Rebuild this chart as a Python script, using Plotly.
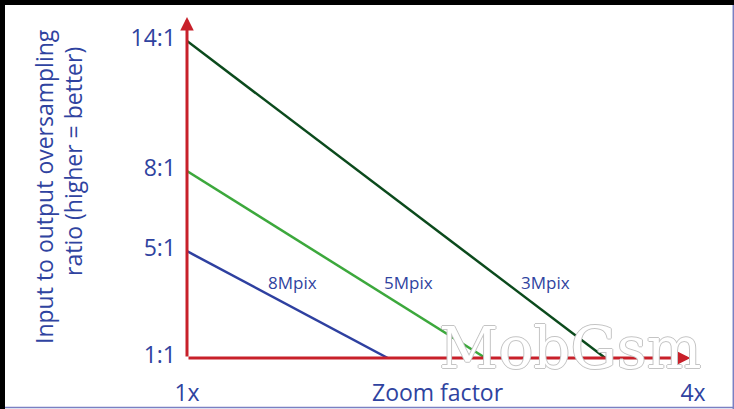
import plotly.graph_objects as go

# ---- data ----
series_names = ["3Mpix", "5Mpix", "8Mpix"]
zoom_3mp = [1.0, 3.48]
ratio_3mp = [12.87, 1.0]      # drawn level of the "14:1" tick
zoom_5mp = [1.0, 2.77]
ratio_5mp = [8.0, 1.0]
zoom_8mp = [1.0, 2.19]
ratio_8mp = [5.0, 1.0]

y_tick_levels = [1.0, 5.0, 8.0, 12.87]
y_tick_labels = ["1:1", "5:1", "8:1", "14:1"]
x_tick_vals = [1, 4]
x_tick_labels = ["1x", "4x"]

label_x = [3.128, 2.316, 1.628]
label_y = [3.81, 3.81, 3.81]

colors = ["#0b4a1c", "#3ca83c", "#2e40a0"]
text_blue = "#2f43a0"
axis_red = "#c8202a"
FONT = "Open Sans"

W, H = 734, 409
L, R, T, B = 187, 41, 17, 51
PW, PH = W - L - R, H - T - B
y_top = 13.77

def px2paper_x(px):
    return (px - L) / PW

def py2paper_y(py):
    return (H - B - py) / PH

fig = go.Figure()
for xs, ys, c in [(zoom_3mp, ratio_3mp, colors[0]),
                  (zoom_5mp, ratio_5mp, colors[1]),
                  (zoom_8mp, ratio_8mp, colors[2])]:
    fig.add_trace(go.Scatter(x=xs, y=ys, mode="lines",
                             line=dict(color=c, width=2.5),
                             showlegend=False, hoverinfo="skip"))

annotations = []
# axis arrows
annotations.append(dict(x=1, y=y_top, ax=1, ay=1, xref="x", yref="y",
                        axref="x", ayref="y", text="", showarrow=True,
                        arrowhead=2, arrowsize=0.9, arrowwidth=3,
                        arrowcolor=axis_red))
annotations.append(dict(x=3.985, y=1, ax=1, ay=1, xref="x", yref="y",
                        axref="x", ayref="y", text="", showarrow=True,
                        arrowhead=2, arrowsize=0.9, arrowwidth=3,
                        arrowcolor=axis_red))
# series labels
for name, lx, ly in zip(series_names, label_x, label_y):
    annotations.append(dict(x=lx, y=ly, xref="x", yref="y", text=name,
                            showarrow=False, xanchor="center", yanchor="middle",
                            font=dict(family=FONT, size=17, color=text_blue)))
# axis titles
annotations.append(dict(x=px2paper_x(44), y=py2paper_y(187), xref="paper",
                        yref="paper", text="Input to output oversampling",
                        textangle=-90, showarrow=False,
                        xanchor="center", yanchor="middle",
                        font=dict(family=FONT, size=23, color=text_blue)))
annotations.append(dict(x=px2paper_x(73), y=py2paper_y(162), xref="paper",
                        yref="paper", text="ratio (higher = better)",
                        textangle=-90, showarrow=False,
                        xanchor="center", yanchor="middle",
                        font=dict(family=FONT, size=23, color=text_blue)))
annotations.append(dict(x=px2paper_x(438), y=py2paper_y(392), xref="paper",
                        yref="paper", text="Zoom factor", showarrow=False,
                        xanchor="center", yanchor="middle",
                        font=dict(family=FONT, size=23, color=text_blue)))
# watermark
annotations.append(dict(x=px2paper_x(570), y=py2paper_y(348), xref="paper",
                        yref="paper", text="MobGsm", showarrow=False,
                        xanchor="center", yanchor="middle",
                        font=dict(family="DejaVu Serif", size=58, color="white",
                                  shadow="1px 0 0 #c4c4c4, -1px 0 0 #c4c4c4, 0 1px 0 #c4c4c4, 0 -1px 0 #c4c4c4")))

shapes = [
    dict(type="rect", xref="paper", yref="paper",
         x0=px2paper_x(5), x1=px2paper_x(733), y0=py2paper_y(409), y1=py2paper_y(5),
         fillcolor="white", line=dict(width=0), layer="below"),
    dict(type="line", xref="paper", yref="paper",
         x0=px2paper_x(733.3), x1=px2paper_x(733.3), y0=py2paper_y(409), y1=py2paper_y(5),
         line=dict(color="#7a80c2", width=1.5), layer="below"),
    dict(type="line", xref="paper", yref="paper",
         x0=px2paper_x(5), x1=px2paper_x(734), y0=py2paper_y(407.6), y1=py2paper_y(407.6),
         line=dict(color="#7a80c2", width=1.5), layer="below"),
]

fig.update_layout(
    width=W, height=H,
    margin=dict(l=L, r=R, t=T, b=B, autoexpand=False),
    paper_bgcolor="black", plot_bgcolor="rgba(0,0,0,0)",
    showlegend=False,
    annotations=annotations, shapes=shapes,
    xaxis=dict(range=[1, 4], tickvals=x_tick_vals, ticktext=x_tick_labels,
               showgrid=False, zeroline=False, showline=False, ticks="",
               ticklabelstandoff=19,
               tickfont=dict(family=FONT, size=23, color=text_blue)),
    yaxis=dict(range=[1, y_top], tickvals=y_tick_levels, ticktext=y_tick_labels,
               showgrid=False, zeroline=False, showline=False, ticks="",
               ticklabelstandoff=10, ticklabelshift=-3,
               tickfont=dict(family=FONT, size=23, color=text_blue)),
)

fig.write_html("out.html")
